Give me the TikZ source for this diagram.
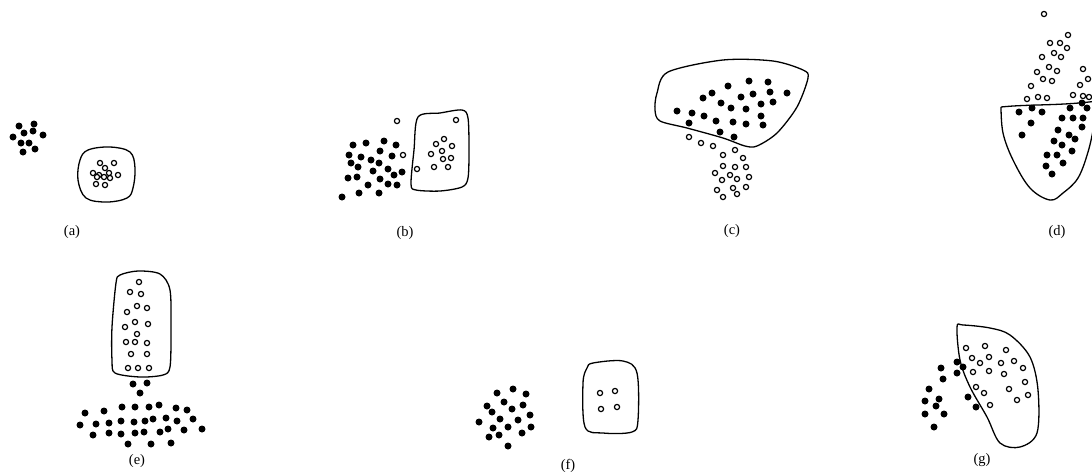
\documentclass[tikz,border=0pt]{standalone}
\usepackage{fontspec}
\setmainfont{Liberation Serif}
\begin{document}
\begin{tikzpicture}[x=1pt,y=-1pt,font=\fontsize{14.5}{16}\selectfont,
	blob/.style={line width=1.3pt,line join=round},
	full/.style={fill=black},
	hollow/.style={draw=black,line width=1.2pt,fill=white}]
			\def\rb{3.5}
			\def\ro{2.6}
			\useasboundingbox (0,0) rectangle (1092,475);
			\clip (0,0) rectangle (1092,475);
			% (a)
			\draw[blob] plot[smooth cycle,tension=0.6] coordinates {(88,150) (110,147) (130,152) (135,168) (133,188) (127,198) (107,202) (86,198) (78,180) (80,160)};
			\foreach \p in {(19,126),(34,124),(13,137),(24,133),(33,131),(43,135),(21,143),(29,143),(23,152),(35,149)}
				\fill[full] \p circle (\rb);
			\foreach \p in {(100,163),(114,163),(105,168),(93,173),(99,175),(109,173),(118,175),(97,177),(104,177),(110,178),(96,184),(105,185)}
				\draw[hollow] \p circle (\ro);
			\node (la) at (72,232) {(a)};
			% (b)
			\draw[blob] plot[smooth cycle,tension=0.5] coordinates {(418,117) (440,113) (462,110) (468,118) (469,150) (468,178) (462,187) (440,191) (416,190) (411,184) (414,150)};
			\foreach \p in {(353,145),(366,143),(384,141),(396,145),(349,155),(361,157),(380,151),(392,156),(351,163),(358,167),(371,160),(379,163),(388,169),(373,171),(402,172),(348,178),(357,177),(380,179),(394,175),(368,185),(388,184),(397,185),(342,197),(359,193),(379,193)}
				\fill[full] \p circle (\rb);
			\foreach \p in {(397,121),(456,120),(403,155),(417,169),(436,144),(444,139),(452,146),(431,154),(442,151),(443,159),(451,158),(434,167),(448,167)}
				\draw[hollow] \p circle (\ro);
			\node (lb) at (405,233) {(b)};
			% (c)
			\draw[blob] plot[smooth cycle,tension=0.5] coordinates {(668,72) (723,60) (773,61) (803,70) (808,78) (797,107) (777,133) (757,146) (745,146) (723,138) (687,128) (660,121) (655,110) (657,93)};
			\foreach \p in {(677,111),(692,113),(689,123),(704,116),(703,98),(712,93),(721,103),(716,121),(720,132),(728,86),(731,108),(733,122),(734,137),(741,97),(746,109),(746,124),(749,81),(753,94),(761,104),(761,116),(763,125),(768,82),(770,92),(773,102),(787,93)}
				\fill[full] \p circle (\rb);
			\foreach \p in {(689,137),(701,143),(713,146),(723,155),(735,150),(743,158),(723,166),(735,167),(746,167),(715,173),(722,180),(730,175),(737,179),(749,177),(717,190),(723,197),(733,188),(737,194),(746,187)}
				\draw[hollow] \p circle (\ro);
			\node (lc) at (732,231) {(c)};
			% (d)
			\draw[blob] (1001,107) .. controls (1030,104) and (1060,106) .. (1097,101)
				plot[smooth,tension=0.6] coordinates {(1097,101) (1094,125) (1088,152) (1078,178) (1063,193) (1050,200) (1030,188) (1013,160) (1003,133) (1001,107)};
			\foreach \p in {(1032,108),(1042,112),(1019,112),(1031,123),(1022,135),(1070,108),(1082,103),(1087,108),(1062,118),(1073,118),(1083,118),(1082,127),(1058,130),(1069,135),(1054,141),(1062,145),(1075,139),(1072,151),(1047,155),(1057,155),(1063,163),(1046,166),(1052,174)}
				\fill[full] \p circle (\rb);
			\foreach \p in {(1044,14),(1068,35),(1050,43),(1060,43),(1067,48),(1054,53),(1042,57),(1061,57),(1049,67),(1057,71),(1037,72),(1043,79),(1052,81),(1031,86),(1027,99),(1038,97),(1047,98),(1083,69),(1088,79),(1080,85),(1073,95),(1083,96),(1089,97)}
				\draw[hollow] \p circle (\ro);
			\node (ld) at (1057,232) {(d)};
			% (e)
			\draw[blob] plot[smooth cycle,tension=0.5] coordinates {(120,275) (138,271) (160,274) (170,290) (171,330) (170,367) (163,375) (140,377) (115,373) (112,360) (112,327) (116,283)};
			\foreach \p in {(133,384),(147,383),(140,393),(85,413),(104,411),(122,407),(135,407),(149,407),(159,405),(176,408),(187,410),(80,425),(96,424),(109,423),(121,421),(134,422),(145,421),(153,419),(166,418),(177,421),(193,419),(93,435),(109,433),(121,434),(135,433),(144,432),(160,432),(168,429),(184,430),(202,429),(128,444),(151,444),(171,443)}
				\fill[full] \p circle (\rb);
			\foreach \p in {(139,282),(130,292),(141,294),(137,306),(127,312),(147,308),(135,322),(125,327),(148,324),(137,334),(126,342),(135,342),(147,343),(131,354),(147,354),(128,368),(138,368),(149,368)}
				\draw[hollow] \p circle (\ro);
			\node (le) at (137,461) {(e)};
			% (f)
			\draw[blob] plot[smooth cycle,tension=0.55] coordinates {(593,363) (623,361) (637,373) (638,420) (632,432) (603,433) (585,427) (583,383) (587,368)};
			\foreach \p in {(497,393),(513,389),(526,394),(487,406),(504,402),(523,405),(492,412),(512,409),(530,415),(479,422),(500,419),(518,420),(493,428),(508,427),(531,427),(489,437),(499,435),(522,433),(508,446)}
				\fill[full] \p circle (\rb);
			\foreach \p in {(600,393),(615,391),(601,409),(617,407)}
				\draw[hollow] \p circle (\ro);
			\node (lf) at (568,466) {(f)};
			% (g)
			\foreach \p in {(941,368),(957,362),(963,367),(957,373),(943,379),(929,389),(939,399),(968,397),(925,401),(936,406),(976,407),(925,414),(944,414),(934,427)}
				\fill[full] \p circle (\rb);
			\draw[blob] plot[smooth cycle,tension=0.55] coordinates {(957,327) (963,325) (990,328) (1010,335) (1030,357) (1038,390) (1037,433) (1020,447) (1000,443) (987,417) (970,387) (960,360)};
			\foreach \p in {(966,348),(985,346),(1006,350),(972,358),(989,357),(980,363),(1001,363),(1014,361),(1023,368),(973,372),(989,371),(1004,374),(976,387),(984,393),(1025,382),(1009,389),(1028,395),(1017,400),(990,405)}
				\draw[hollow] \p circle (\ro);
			\node (lg) at (982,460) {(g)};
\end{tikzpicture}
\end{document}
